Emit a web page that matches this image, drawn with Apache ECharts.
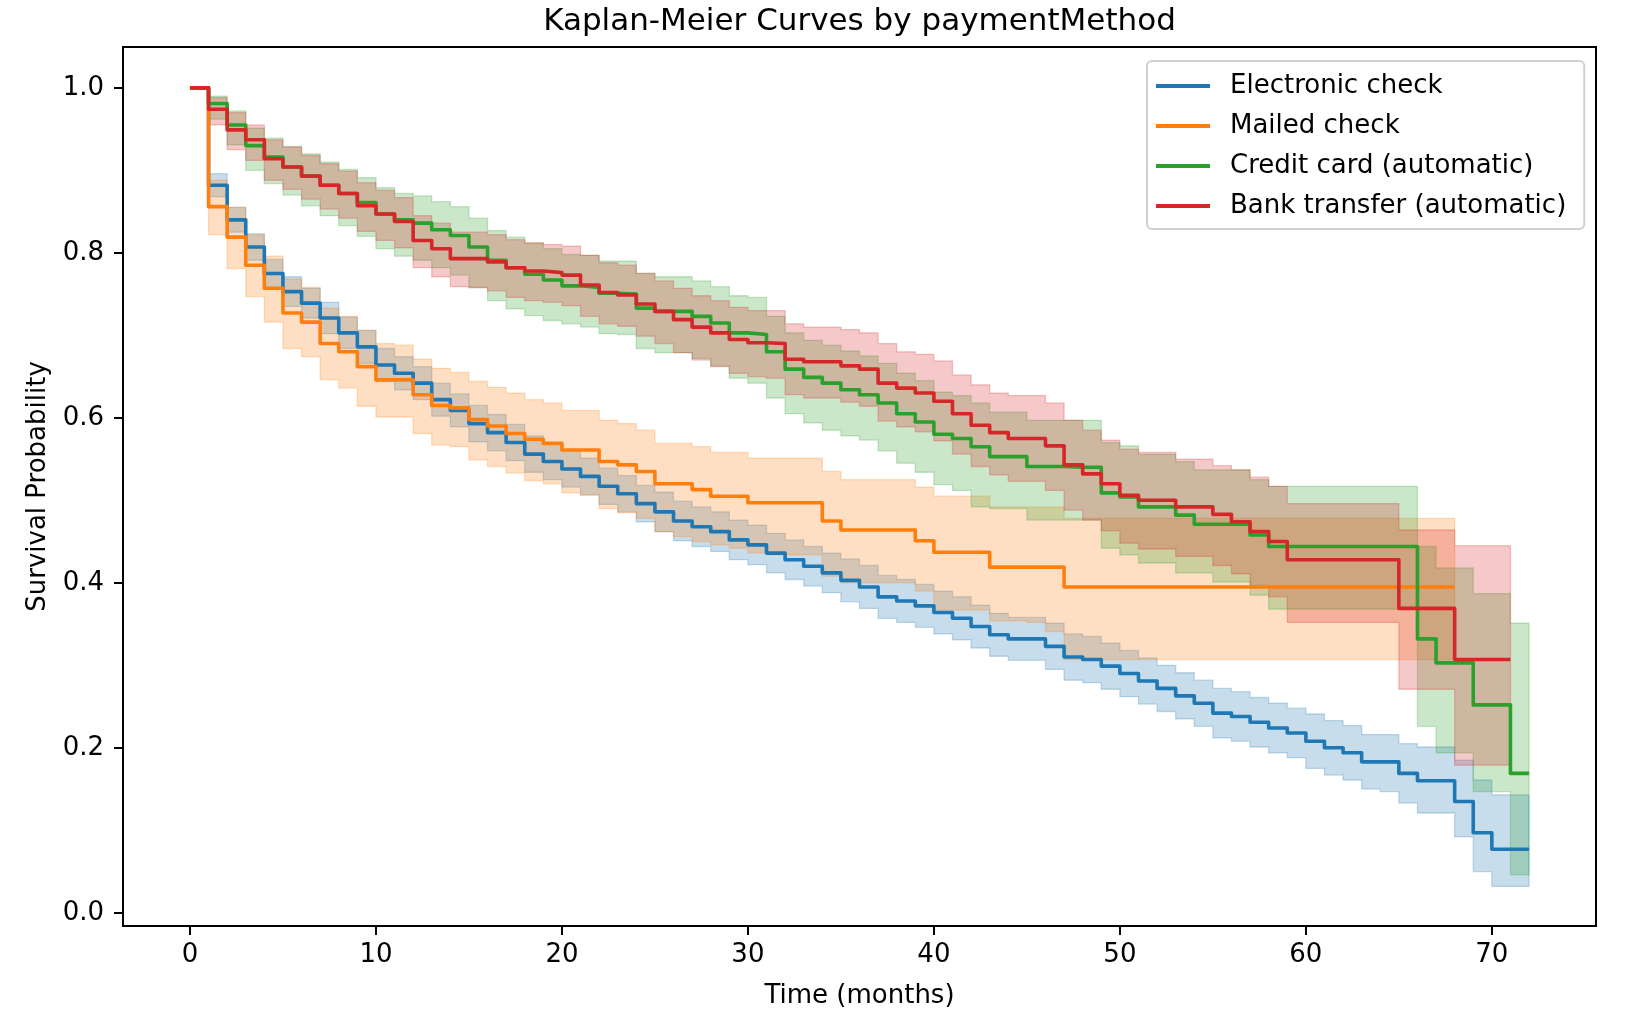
<!DOCTYPE html>
<html>
<head>
<meta charset="utf-8">
<script src="https://cdn.jsdelivr.net/npm/echarts@6.0.0/dist/echarts.min.js"></script>
<style>
html,body{margin:0;padding:0;background:#fff;}
#chart{width:1638px;height:1018px;}
</style>
</head>
<body>
<div id="chart"></div>
<script>
// ---------------- data ----------------
const months = [0,1,2,3,4,5,6,7,8,9,10,11,12,13,14,15,16,17,18,19,20,21,22,23,24,25,26,27,28,29,30,31,32,33,34,35,36,37,38,39,40,41,42,43,44,45,46,47,48,49,50,51,52,53,54,55,56,57,58,59,60,61,62,63,64,65,66,67,68,69,70,71,72];

const seriesNames = ['Electronic check','Mailed check','Credit card (automatic)','Bank transfer (automatic)'];
const xTicks = [0,10,20,30,40,50,60,70];
const yTicks = [0,0.2,0.4,0.6,0.8,1.0];

const electronicSurv = [1.000,0.882,0.840,0.807,0.775,0.753,0.739,0.721,0.703,0.686,
 0.664,0.654,0.642,0.622,0.609,0.593,0.582,0.570,0.556,0.547,
 0.538,0.529,0.517,0.508,0.496,0.486,0.475,0.468,0.462,0.452,
 0.446,0.436,0.428,0.420,0.412,0.403,0.395,0.383,0.378,0.372,
 0.364,0.357,0.347,0.337,0.332,0.332,0.323,0.310,0.307,0.299,
 0.290,0.281,0.272,0.263,0.254,0.242,0.238,0.231,0.224,0.218,
 0.208,0.200,0.194,0.183,0.183,0.169,0.160,0.160,0.135,0.097,
 0.077,0.077,0.077];
const electronicLower = [1.000,0.868,0.825,0.791,0.758,0.735,0.721,0.702,0.684,0.666,
 0.644,0.634,0.622,0.602,0.589,0.571,0.560,0.548,0.534,0.525,
 0.516,0.507,0.495,0.486,0.474,0.462,0.451,0.444,0.438,0.428,
 0.422,0.412,0.404,0.396,0.388,0.377,0.369,0.357,0.352,0.346,
 0.338,0.331,0.321,0.311,0.306,0.306,0.295,0.282,0.279,0.271,
 0.262,0.253,0.244,0.235,0.226,0.212,0.208,0.201,0.194,0.188,
 0.175,0.167,0.161,0.150,0.147,0.133,0.121,0.121,0.092,0.050,
 0.032,0.032,0.032];
const electronicUpper = [1.000,0.896,0.855,0.823,0.792,0.771,0.757,0.740,0.722,0.706,
 0.684,0.674,0.662,0.642,0.629,0.615,0.604,0.592,0.578,0.569,
 0.560,0.551,0.539,0.530,0.518,0.510,0.499,0.492,0.486,0.476,
 0.470,0.460,0.452,0.444,0.436,0.429,0.421,0.409,0.404,0.398,
 0.390,0.383,0.373,0.363,0.358,0.358,0.351,0.338,0.335,0.327,
 0.318,0.309,0.300,0.291,0.282,0.272,0.268,0.261,0.254,0.248,
 0.241,0.233,0.227,0.216,0.216,0.205,0.201,0.201,0.185,0.161,
 0.143,0.143,0.143];

const mailedSurv = [1.000,0.856,0.819,0.785,0.757,0.727,0.716,0.690,0.680,0.662,
 0.646,0.646,0.628,0.615,0.612,0.598,0.590,0.581,0.574,0.569,
 0.561,0.561,0.547,0.543,0.535,0.520,0.520,0.513,0.505,0.505,
 0.497,0.497,0.497,0.497,0.475,0.464,0.464,0.464,0.464,0.451,
 0.437,0.437,0.437,0.419,0.419,0.419,0.419,0.395,0.395,0.395,
 0.395,0.395,0.395,0.395,0.395,0.395,0.395,0.395,0.395,0.395,
 0.395,0.395,0.395,0.395,0.395,0.395,0.395,0.395,0.395];
const mailedLower = [1.000,0.822,0.781,0.747,0.716,0.684,0.674,0.646,0.636,0.614,
 0.601,0.601,0.581,0.567,0.565,0.549,0.541,0.533,0.524,0.520,
 0.509,0.506,0.490,0.485,0.478,0.462,0.456,0.450,0.446,0.442,
 0.436,0.434,0.434,0.434,0.408,0.400,0.400,0.400,0.400,0.390,
 0.367,0.367,0.367,0.354,0.354,0.352,0.341,0.307,0.307,0.307,
 0.307,0.307,0.307,0.307,0.307,0.307,0.307,0.307,0.307,0.307,
 0.307,0.307,0.307,0.307,0.307,0.307,0.307,0.307,0.307];
const mailedUpper = [1.000,0.888,0.855,0.822,0.796,0.768,0.758,0.733,0.723,0.706,
 0.690,0.688,0.671,0.660,0.655,0.644,0.637,0.630,0.622,0.618,
 0.609,0.609,0.597,0.593,0.585,0.569,0.569,0.565,0.558,0.558,
 0.551,0.551,0.551,0.551,0.535,0.525,0.525,0.525,0.525,0.516,
 0.505,0.505,0.505,0.492,0.492,0.492,0.492,0.478,0.478,0.478,
 0.478,0.478,0.478,0.478,0.478,0.478,0.478,0.478,0.478,0.478,
 0.478,0.478,0.478,0.478,0.478,0.478,0.478,0.478,0.478];

const creditSurv = [1.000,0.981,0.955,0.930,0.916,0.904,0.893,0.882,0.872,0.861,
 0.847,0.840,0.836,0.828,0.821,0.807,0.791,0.782,0.774,0.767,
 0.760,0.758,0.751,0.750,0.733,0.729,0.729,0.723,0.715,0.703,
 0.701,0.680,0.659,0.649,0.642,0.634,0.628,0.618,0.605,0.595,
 0.580,0.575,0.565,0.553,0.553,0.541,0.541,0.540,0.540,0.509,
 0.504,0.492,0.492,0.482,0.471,0.471,0.471,0.458,0.444,0.444,
 0.444,0.444,0.444,0.444,0.444,0.444,0.332,0.303,0.303,0.252,
 0.252,0.169,0.169];
const creditLower = [1.000,0.962,0.931,0.900,0.884,0.870,0.857,0.845,0.833,0.820,
 0.805,0.796,0.791,0.782,0.773,0.758,0.742,0.732,0.724,0.718,
 0.714,0.710,0.702,0.701,0.684,0.679,0.679,0.672,0.663,0.648,
 0.642,0.624,0.605,0.594,0.585,0.578,0.573,0.560,0.545,0.534,
 0.519,0.512,0.492,0.490,0.490,0.476,0.476,0.476,0.476,0.442,
 0.434,0.424,0.424,0.412,0.412,0.401,0.401,0.385,0.368,0.368,
 0.368,0.368,0.368,0.368,0.368,0.368,0.226,0.194,0.194,0.147,
 0.147,0.046,0.046];
const creditUpper = [1.000,0.990,0.972,0.951,0.939,0.929,0.920,0.910,0.901,0.891,
 0.879,0.872,0.869,0.862,0.856,0.842,0.827,0.819,0.812,0.805,
 0.798,0.797,0.790,0.790,0.775,0.771,0.771,0.766,0.759,0.748,
 0.746,0.723,0.703,0.694,0.688,0.681,0.675,0.666,0.654,0.645,
 0.631,0.627,0.618,0.607,0.607,0.597,0.597,0.597,0.597,0.570,
 0.566,0.556,0.556,0.547,0.537,0.537,0.537,0.525,0.517,0.517,
 0.517,0.517,0.517,0.517,0.517,0.517,0.444,0.418,0.418,0.387,
 0.387,0.351,0.351];

const bankSurv = [1.000,0.974,0.949,0.937,0.914,0.904,0.893,0.882,0.872,0.857,
 0.847,0.838,0.815,0.805,0.793,0.793,0.789,0.782,0.778,0.776,
 0.773,0.761,0.752,0.749,0.738,0.729,0.719,0.710,0.703,0.695,
 0.691,0.690,0.671,0.668,0.668,0.663,0.659,0.642,0.636,0.630,
 0.620,0.605,0.591,0.582,0.575,0.575,0.566,0.543,0.532,0.520,
 0.506,0.500,0.500,0.492,0.492,0.483,0.474,0.462,0.450,0.428,
 0.428,0.428,0.428,0.428,0.428,0.369,0.369,0.369,0.307,0.307,
 0.307,0.307];
const bankLower = [1.000,0.955,0.925,0.912,0.888,0.877,0.865,0.853,0.842,0.826,
 0.815,0.806,0.782,0.771,0.759,0.758,0.754,0.746,0.742,0.740,
 0.736,0.723,0.714,0.711,0.699,0.690,0.679,0.670,0.662,0.654,
 0.650,0.648,0.628,0.624,0.624,0.619,0.614,0.596,0.589,0.583,
 0.572,0.556,0.541,0.531,0.523,0.523,0.512,0.488,0.476,0.463,
 0.448,0.441,0.441,0.432,0.432,0.421,0.411,0.397,0.383,0.352,
 0.352,0.352,0.352,0.352,0.352,0.271,0.271,0.271,0.179,0.179,
 0.179,0.179];
const bankUpper = [1.000,0.988,0.970,0.955,0.937,0.928,0.918,0.908,0.899,0.885,
 0.876,0.867,0.845,0.836,0.825,0.825,0.822,0.816,0.812,0.810,
 0.808,0.797,0.788,0.785,0.775,0.766,0.757,0.748,0.742,0.734,
 0.730,0.730,0.714,0.710,0.710,0.707,0.703,0.690,0.680,0.677,
 0.669,0.652,0.640,0.630,0.627,0.627,0.618,0.597,0.585,0.573,
 0.562,0.558,0.558,0.550,0.550,0.542,0.537,0.528,0.517,0.496,
 0.496,0.496,0.496,0.496,0.496,0.464,0.464,0.464,0.445,0.445,
 0.445,0.445];

// ---------------- build ----------------
const colors = ['#1f77b4','#ff7f0e','#2ca02c','#d62728'];
const bandFill = ['rgba(31,119,180,0.25)','rgba(255,127,14,0.25)','rgba(44,160,44,0.25)','rgba(214,39,40,0.25)'];
const groups = [
  [electronicSurv, electronicLower, electronicUpper],
  [mailedSurv, mailedLower, mailedUpper],
  [creditSurv, creditLower, creditUpper],
  [bankSurv, bankLower, bankUpper]
];
const FONT = 'DejaVu Sans';

function bandRender(fill) {
  return function (params, api) {
    if (params.dataIndexInside !== 0) return null;
    const n = params.dataInsideLength;
    const up = [], lo = [];
    for (let i = 0; i < n - 1; i++) {
      const t0 = api.value(0, i), t1 = api.value(0, i + 1);
      const l = api.value(1, i), h = api.value(2, i);
      up.push(api.coord([t0, h]), api.coord([t1, h]));
      lo.push(api.coord([t0, l]), api.coord([t1, l]));
    }
    const pts = up.concat(lo.reverse());
    return {
      type: 'polygon',
      shape: { points: pts },
      style: { fill: fill, stroke: fill, lineWidth: 1.3 }
    };
  };
}

const series = [];
groups.forEach(function (g, k) {
  const surv = g[0], lower = g[1], upper = g[2];
  series.push({
    name: seriesNames[k],
    type: 'line',
    step: 'end',
    showSymbol: false,
    symbol: 'none',
    silent: true,
    data: surv.map(function (v, i) { return [months[i], v]; }),
    lineStyle: { color: colors[k], width: 3.6, join: 'round' },
    itemStyle: { color: colors[k] },
    z: 2
  });
  series.push({
    name: seriesNames[k] + ' CI',
    type: 'custom',
    silent: true,
    renderItem: bandRender(bandFill[k]),
    encode: { x: 0, y: [1, 2] },
    data: lower.map(function (v, i) { return [months[i], v, upper[i]]; }),
    z: 2
  });
});

const chart = echarts.init(document.getElementById('chart'), null, { renderer: 'canvas' });
chart.setOption({
  animation: false,
  backgroundColor: '#ffffff',
  title: {
    text: 'Kaplan-Meier Curves by paymentMethod',
    left: 859.5,
    textAlign: 'center',
    top: 6,
    padding: 0,
    textStyle: { fontFamily: FONT, fontSize: 31, fontWeight: 'normal', color: '#000' }
  },
  legend: {
    data: seriesNames,
    orient: 'vertical',
    left: 1147,
    top: 61,
    padding: [10, 18, 8, 9],
    itemGap: 10,
    itemWidth: 54,
    itemHeight: 4,
    icon: 'rect',
    backgroundColor: 'rgba(255,255,255,0.8)',
    borderColor: '#d0d0d0',
    borderWidth: 2,
    borderRadius: 5,
    selectedMode: false,
    textStyle: { fontFamily: FONT, fontSize: 26, color: '#000', lineHeight: 30, padding: [0, 0, 0, 15] }
  },
  grid: {
    left: 123, right: 42, top: 47, bottom: 92,
    show: true, borderColor: '#000', borderWidth: 2, backgroundColor: 'transparent'
  },
  xAxis: {
    type: 'value',
    min: -3.6, max: 75.6,
    name: 'Time (months)',
    nameLocation: 'middle',
    nameGap: 57,
    nameTextStyle: { fontFamily: FONT, fontSize: 26, color: '#000' },
    axisLine: { show: true, onZero: false, lineStyle: { color: '#000', width: 2 } },
    splitLine: { show: false },
    axisTick: { show: true, inside: false, customValues: xTicks, length: 9, lineStyle: { color: '#000', width: 2 } },
    axisLabel: { customValues: xTicks, margin: 16, fontFamily: FONT, fontSize: 26, color: '#000' }
  },
  yAxis: {
    type: 'value',
    min: -0.016, max: 1.0495,
    name: 'Survival Probability',
    nameLocation: 'middle',
    nameRotate: 90,
    nameGap: 72,
    nameTextStyle: { fontFamily: FONT, fontSize: 26, color: '#000' },
    axisLine: { show: true, onZero: false, lineStyle: { color: '#000', width: 2 } },
    splitLine: { show: false },
    axisTick: { show: true, inside: false, customValues: yTicks, length: 9, lineStyle: { color: '#000', width: 2 } },
    axisLabel: {
      customValues: yTicks, margin: 19, fontFamily: FONT, fontSize: 26, color: '#000',
      padding: [5, 0, 0, 0],
      formatter: function (v) { return Number(v).toFixed(1); }
    }
  },
  series: series
});
</script>
</body>
</html>
